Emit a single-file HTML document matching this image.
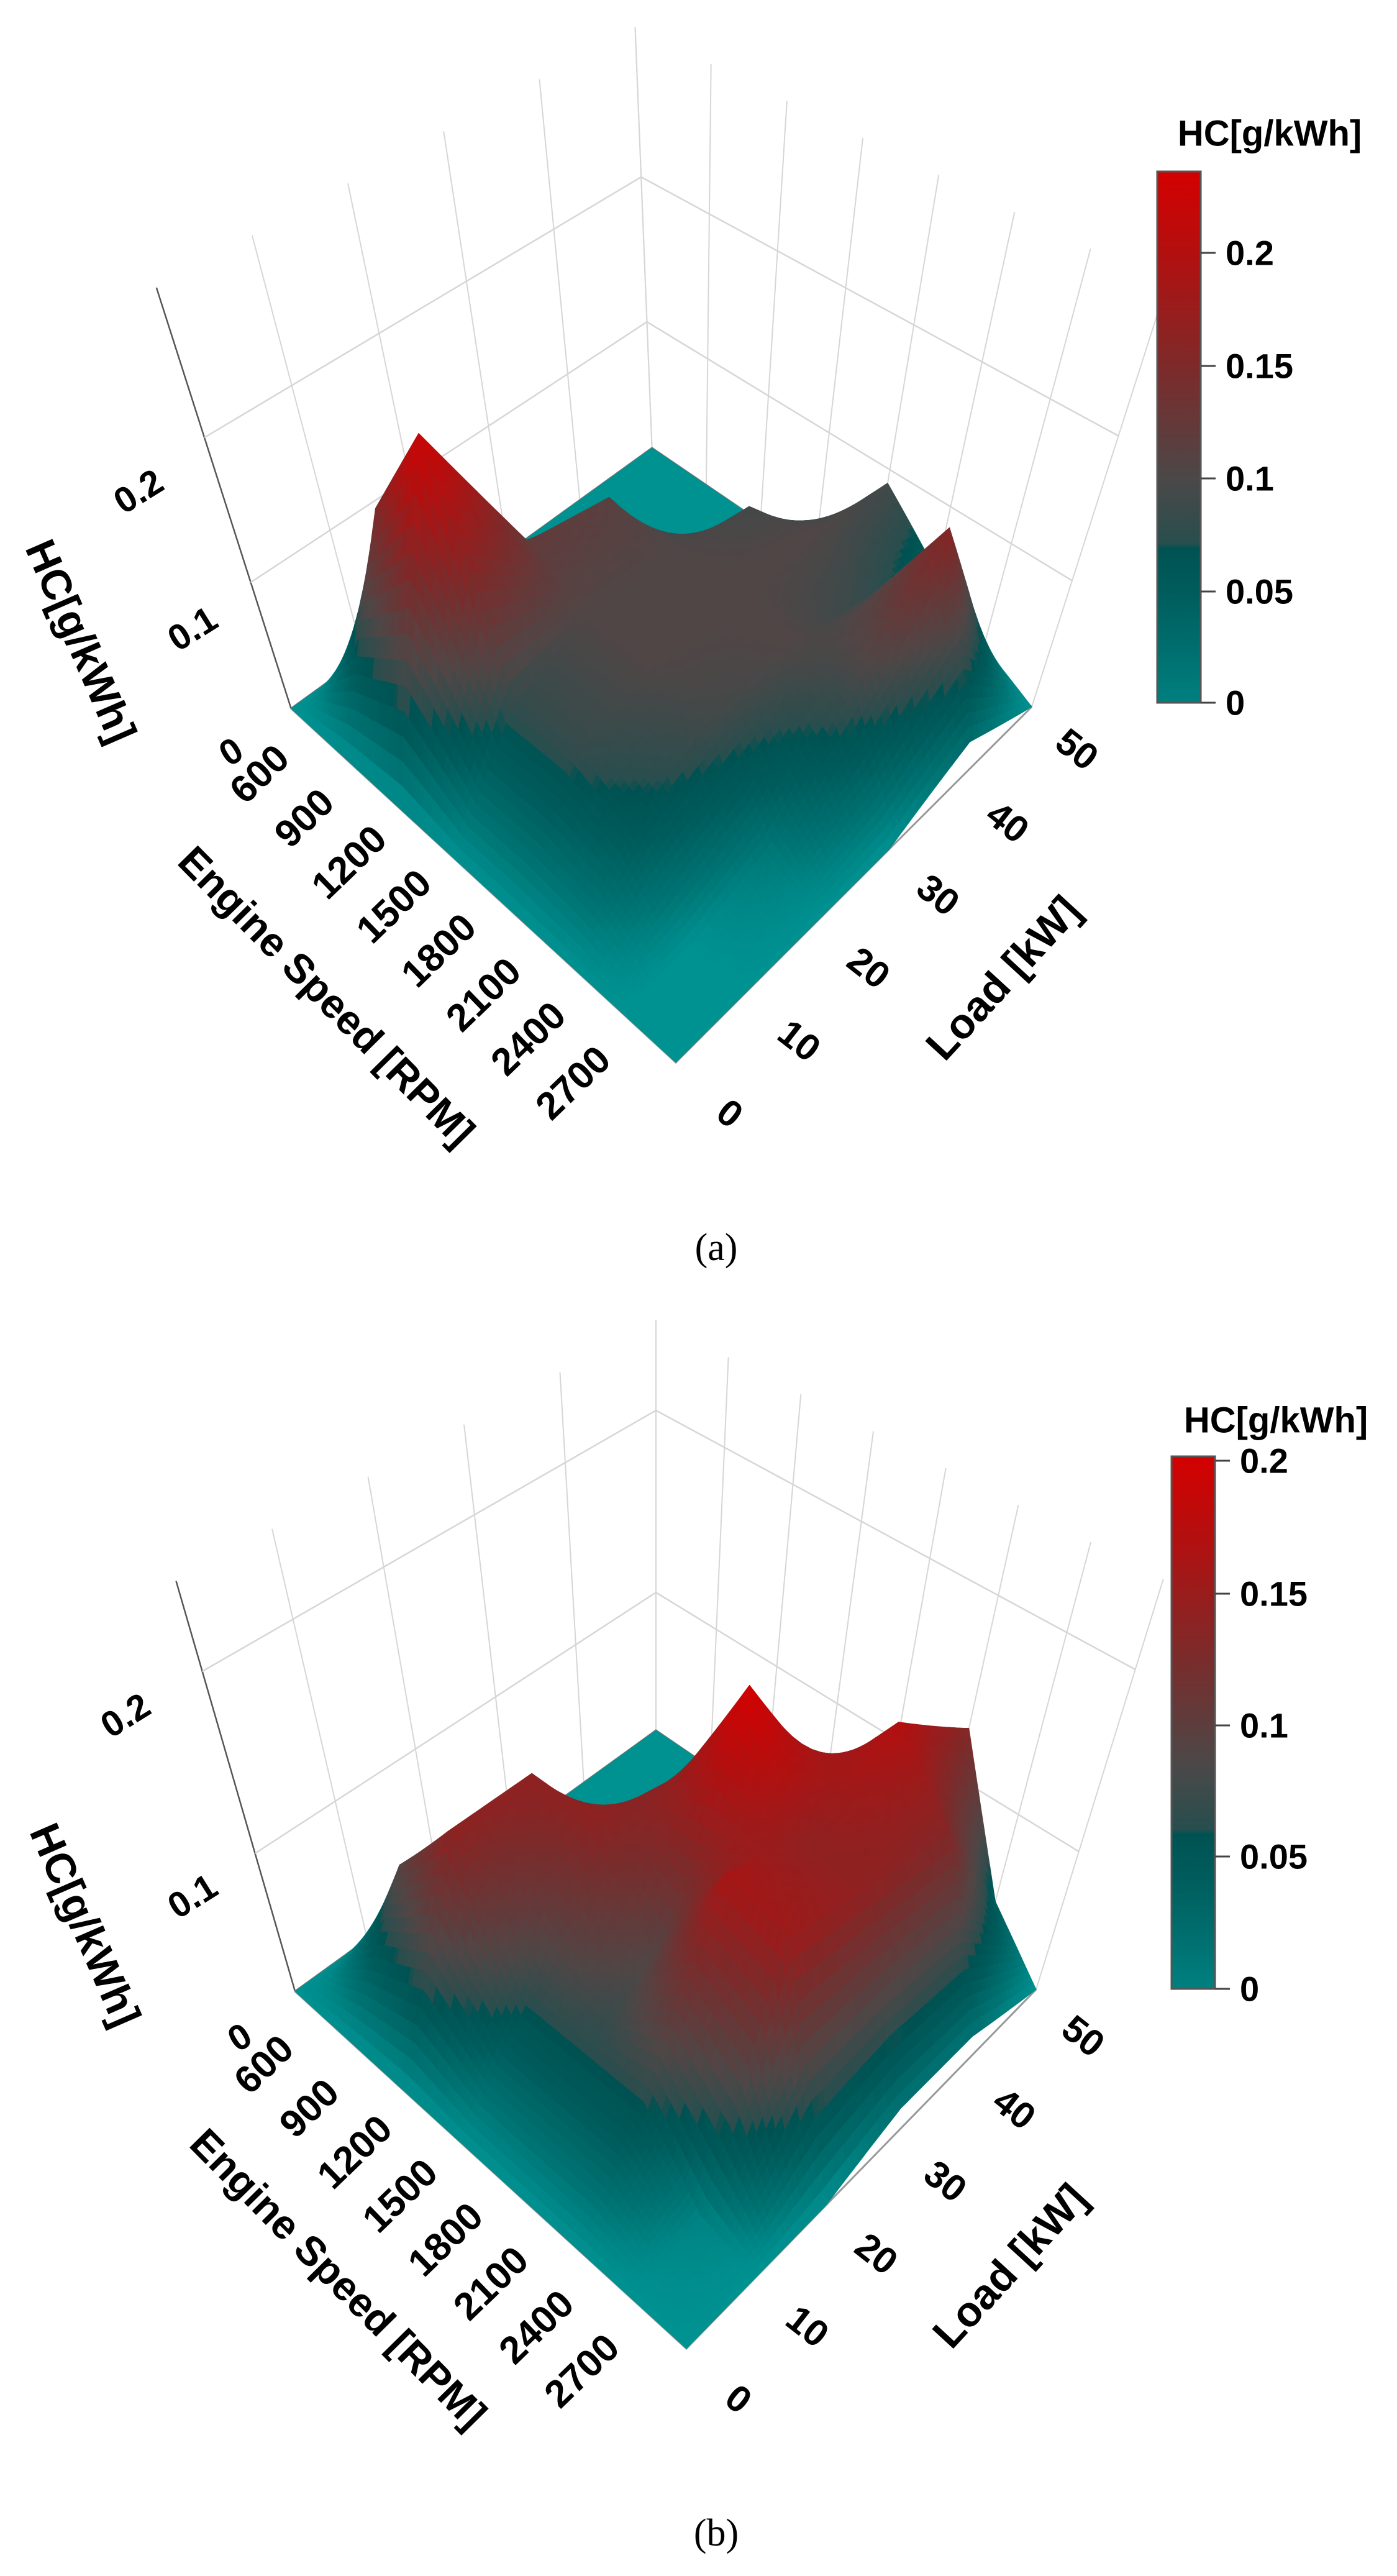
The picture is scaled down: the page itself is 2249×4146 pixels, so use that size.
<!DOCTYPE html>
<html><head><meta charset="utf-8">
<style>
html,body{margin:0;padding:0;background:#fff;}
svg{display:block;}
text{font-family:"Liberation Sans",Arial,sans-serif;font-weight:bold;fill:#000;}
.cap{font-family:"Liberation Serif","Times New Roman",serif;font-weight:normal;}
</style></head>
<body>
<svg id="fig" width="2249" height="4146" viewBox="0 0 2249 4146" xmlns="http://www.w3.org/2000/svg">
<defs>
<linearGradient id="cbgrad" x1="0" y1="1" x2="0" y2="0">
<stop offset="0" stop-color="rgb(0,128,128)"/>
<stop offset="0.1" stop-color="rgb(0,110,110)"/>
<stop offset="0.21" stop-color="rgb(0,92,92)"/>
<stop offset="0.29" stop-color="rgb(0,82,82)"/>
<stop offset="0.3" stop-color="rgb(40,78,78)"/>
<stop offset="0.42" stop-color="rgb(75,72,72)"/>
<stop offset="0.63" stop-color="rgb(125,42,42)"/>
<stop offset="0.84" stop-color="rgb(178,16,16)"/>
<stop offset="1" stop-color="rgb(212,0,0)"/>
</linearGradient>
</defs>
<g id="chartA"></g>
<g id="chartB"></g>
<text class="cap" x="1153" y="2028" font-size="62" text-anchor="middle">(a)</text>
<text class="cap" x="1153" y="4097" font-size="62" text-anchor="middle">(b)</text>
</svg>
<script>
// ---- data ----
const speeds = [600, 900, 1200, 1500, 1800, 2100, 2400, 2700];
const loads = [0, 10, 20, 30, 40, 50];
// HC values [g/kWh], rows = speed, cols = load
const hcA = [
  [0, 0, 0, 0, 0, 0],
  [0, 0.15, 0.08, 0, 0, 0],
  [0, 0.23, 0.12, 0.11, 0, 0],
  [0, 0.08, 0.10, 0.10, 0.09, 0],
  [0, 0.08, 0.10, 0.10, 0.10, 0.09],
  [0, 0.06, 0.09, 0.10, 0.08, 0.05],
  [0, 0, 0.02, 0.08, 0.16, 0.02],
  [0, 0, 0, 0, 0.03, 0]
];
const hcB = [
  [0, 0, 0, 0, 0, 0],
  [0, 0.09, 0.04, 0, 0, 0],
  [0, 0.14, 0.14, 0.05, 0, 0],
  [0, 0.06, 0.14, 0.13, 0.04, 0],
  [0, 0.06, 0.09, 0.20, 0.12, 0.03],
  [0, 0.06, 0.16, 0.14, 0.17, 0.13],
  [0, 0.01, 0.15, 0.14, 0.13, 0.04],
  [0, 0, 0, 0.02, 0.02, 0]
];
const zTicks = [0, 0.1, 0.2];
const zTickLabels = ["0", "0.1", "0.2"];
const cbTicksA = [0, 0.05, 0.1, 0.15, 0.2];
const cbTicksB = [0, 0.05, 0.1, 0.15, 0.2];
const cbLabels = ["0", "0.05", "0.1", "0.15", "0.2"];

const NS = "http://www.w3.org/2000/svg";
const stops = [[0,[0,145,145]],[0.1,[0,115,115]],[0.21,[0,92,92]],[0.29,[0,82,82]],[0.3,[40,78,78]],[0.42,[80,70,70]],[0.63,[125,42,42]],[0.84,[178,16,16]],[1,[212,0,0]]];
function cmap(t){
  t=Math.max(0,Math.min(1,t));
  for(let i=1;i<stops.length;i++){
    if(t<=stops[i][0]){
      const a=stops[i-1],b=stops[i],f=(t-a[0])/(b[0]-a[0]||1);
      const c=a[1].map((x,k)=>Math.round(x+(b[1][k]-x)*f));
      return "rgb("+c.join(",")+")";
    }
  }
  return "rgb(212,0,0)";
}
function mk(tag, attrs, parent){
  const e=document.createElementNS(NS,tag);
  for(const k in attrs) e.setAttribute(k,attrs[k]);
  parent.appendChild(e); return e;
}

const cfgA = {
  L:[468.6,1140.3], F:[1088,1710], R:[1661,1137.6], B:[1049.6,721],
  kL:0.32, kF:0, kR:-0.32, kB:0.04, a:1899, b:0.645, zTop:0.29, zMax:0.237,
  zLab:[[372,1210],[310,1012],[223,791]],
  spStart:[418,1246], spEnd:[923,1743],
  ldStart:[1175,1792], ldEnd:[1734,1206],
  zTitle:[130,1032], spTitle:[526,1603], ldTitle:[1615,1574],
  cb:{x:1863,w:70,y0:1131,y1:276,tickY:[1131,952,770,589,407]},
  cbTitle:[2044,215]
};
const cfgB = {
  L:[475,3205], F:[1105,3780], R:[1668,3202], B:[1056,2785],
  kL:0.29, kF:0, kR:-0.31, kB:0, a:1951, b:1.212, zTop:0.24, zMax:0.2,
  zLab:[[386,3279],[310,3052],[202,2761]],
  spStart:[425,3323], spEnd:[937,3816],
  ldStart:[1189,3861], ldEnd:[1744,3277],
  zTitle:[137,3098], spTitle:[545,3667], ldTitle:[1626,3647],
  cb:{x:1886,w:70,y0:3201,y1:2344,tickY:[3201,2988,2777,2565,2351]},
  cbTitle:[2054,2286]
};

function drawChart(g, cfg, Z, cbTicks, tag){
  function floor(u,v){
    const w=[(1-u)*(1-v),u*(1-v),u*v,(1-u)*v];
    const P=[cfg.L,cfg.F,cfg.R,cfg.B];
    let x=0,y=0; for(let i=0;i<4;i++){x+=w[i]*P[i][0];y+=w[i]*P[i][1];}
    const k=w[0]*cfg.kL+w[1]*cfg.kF+w[2]*cfg.kR+w[3]*cfg.kB;
    return [x,y,k];
  }
  function proj(u,v,z){
    const f=floor(u,v);
    const h=cfg.a*z/(1-cfg.b*z);
    return [f[0]-f[2]*h, f[1]-h];
  }
  const uOf=s=>(s-speeds[0])/(speeds[speeds.length-1]-speeds[0]);
  const vOf=l=>(l-loads[0])/(loads[loads.length-1]-loads[0]);
  const P=p=>p[0].toFixed(1)+","+p[1].toFixed(1);

  const grid=mk("g",{},g);
  
  
  loads.forEach(l=>{
    const v=vOf(l);
    const ln=mk("line",{},grid);
    const a=proj(0,v,0),b=proj(0,v,cfg.zTop);
    ln.setAttribute("x1",a[0]);ln.setAttribute("y1",a[1]);ln.setAttribute("x2",b[0]);ln.setAttribute("y2",b[1]);
    ln.setAttribute("stroke",l===0?"#555":"#d6d6d6");ln.setAttribute("stroke-width",l===0?2.5:2);
    
    
  });
  speeds.forEach(s=>{
    const u=uOf(s);
    const ln=mk("line",{},grid);
    const a=proj(u,1,0),b=proj(u,1,cfg.zTop);
    ln.setAttribute("x1",a[0]);ln.setAttribute("y1",a[1]);ln.setAttribute("x2",b[0]);ln.setAttribute("y2",b[1]);
    ln.setAttribute("stroke","#d6d6d6");ln.setAttribute("stroke-width",2);
    
    
  });
  zTicks.forEach(z=>{
    if(z===0) return;
    const pl=mk("polyline",{},grid);
    pl.setAttribute("points",[proj(0,0,z),proj(0,1,z),proj(1,1,z)].map(P).join(" "));
    pl.setAttribute("fill","none");pl.setAttribute("stroke","#d6d6d6");pl.setAttribute("stroke-width",2.5);
    
    
  });
  const ax=mk("polyline",{},grid);
  ax.setAttribute("points",[proj(0,0,0),proj(0,1,0),proj(1,1,0)].map(P).join(" "));
  ax.setAttribute("fill","none");ax.setAttribute("stroke","#777");ax.setAttribute("stroke-width",3);
  
  
  const ax2=mk("polyline",{},grid);
  ax2.setAttribute("points",[proj(0,0,0),proj(1,0,0),proj(1,1,0)].map(P).join(" "));
  ax2.setAttribute("fill","none");ax2.setAttribute("stroke","#999");ax2.setAttribute("stroke-width",3);
  
  

  const surf=mk("g",{},g);
  
  
  const N=14, quads=[];
  const zAt=(i,j,a,b)=>{
    const z00=Z[i][j],z10=Z[i+1][j],z11=Z[i+1][j+1],z01=Z[i][j+1];
    return z00*(1-a)*(1-b)+z10*a*(1-b)+z11*a*b+z01*(1-a)*b;
  };
  for(let i=0;i<speeds.length-1;i++){
    for(let j=0;j<loads.length-1;j++){
      const u0=uOf(speeds[i]),u1=uOf(speeds[i+1]),v0=vOf(loads[j]),v1=vOf(loads[j+1]);
      for(let a=0;a<N;a++)for(let b=0;b<N;b++){
        const A=[a/N,(a+1)/N],Bb=[b/N,(b+1)/N];
        const cs=[[A[0],Bb[0]],[A[1],Bb[0]],[A[1],Bb[1]],[A[0],Bb[1]]];
        let zs=0; const pts=cs.map(c=>{
          const z=zAt(i,j,c[0],c[1]); zs+=z;
          return proj(u0+(u1-u0)*c[0], v0+(v1-v0)*c[1], z);
        });
        const uc=u0+(u1-u0)*(a+0.5)/N, vc=v0+(v1-v0)*(b+0.5)/N;
        quads.push({pts,z:zs/4,d:uc-vc,e:uc+vc});
      }
    }
  }
  quads.sort((p,q)=>(p.d-q.d)||(p.e-q.e));
  quads.forEach(q=>{
    const c=cmap(q.z/cfg.zMax);
    const pg=mk("polygon",{},surf);
    pg.setAttribute("points",q.pts.map(P).join(" "));
    pg.setAttribute("fill",c);pg.setAttribute("stroke",c);pg.setAttribute("stroke-width",1);
    pg.setAttribute("stroke-linejoin","round");
    
    
  });

  const lab=(txt,x,y,rot,size,name,anchor)=>{
    const t=mk("text",{},g);
    t.setAttribute("x",x);t.setAttribute("y",y);
    t.setAttribute("font-size",size);t.setAttribute("text-anchor",anchor||"middle");
    t.setAttribute("dominant-baseline","central");
    t.setAttribute("transform","rotate("+rot+" "+x+" "+y+")");
    t.textContent=txt;
    
    
    return t;
  };
  zTicks.forEach((z,i)=>{ lab(zTickLabels[i],cfg.zLab[i][0],cfg.zLab[i][1],-32,58,'z-tick-label'); });
  speeds.forEach((s,i)=>{
    const f=i/(speeds.length-1);
    lab(String(s),cfg.spStart[0]+(cfg.spEnd[0]-cfg.spStart[0])*f,cfg.spStart[1]+(cfg.spEnd[1]-cfg.spStart[1])*f,-44,62,'speed-tick-label');
  });
  loads.forEach((l,i)=>{
    const f=i/(loads.length-1);
    lab(String(l),cfg.ldStart[0]+(cfg.ldEnd[0]-cfg.ldStart[0])*f,cfg.ldStart[1]+(cfg.ldEnd[1]-cfg.ldStart[1])*f,38,60,'load-tick-label');
  });
  lab("HC[g/kWh]",cfg.zTitle[0],cfg.zTitle[1],66.5,68,'z-axis-title');
  lab("Engine Speed [RPM]",cfg.spTitle[0],cfg.spTitle[1],45.4,66,'x-axis-title');
  lab("Load [kW]",cfg.ldTitle[0],cfg.ldTitle[1],-47.4,68,'y-axis-title');

  const cb=cfg.cb;
  const cbg=mk("g",{},g);
  
  
  const r=mk("rect",{},cbg);
  r.setAttribute("x",cb.x);r.setAttribute("y",cb.y1);r.setAttribute("width",cb.w);r.setAttribute("height",cb.y0-cb.y1);
  r.setAttribute("fill","url(#cbgrad)");r.setAttribute("stroke","#555");r.setAttribute("stroke-width",3);
  
  
  cbTicks.forEach((v,i)=>{
    const y=cb.tickY[i];
    const tl=mk("line",{},cbg);
    tl.setAttribute("x1",cb.x+cb.w);tl.setAttribute("x2",cb.x+cb.w+24);tl.setAttribute("y1",y);tl.setAttribute("y2",y);
    tl.setAttribute("stroke","#444");tl.setAttribute("stroke-width",3);
    
    
    lab(cbLabels[i],cb.x+cb.w+40,y,0,56,'colorbar-tick-label','start');
  });
  lab("HC[g/kWh]",cfg.cbTitle[0],cfg.cbTitle[1],0,58,'colorbar-title');
}
drawChart(document.getElementById("chartA"),cfgA,hcA,cbTicksA,"chart-a");
drawChart(document.getElementById("chartB"),cfgB,hcB,cbTicksB,"chart-b");
</script>
</body></html>
